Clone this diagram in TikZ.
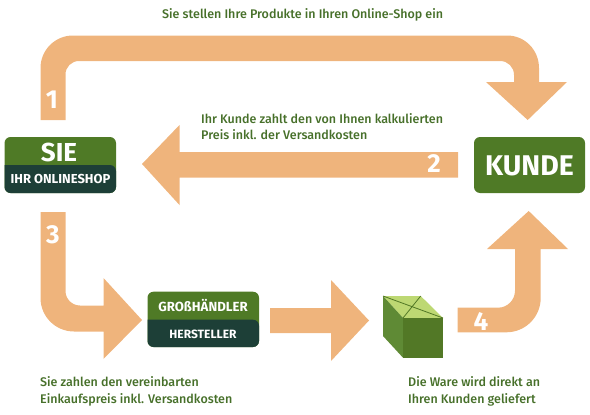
\documentclass[tikz,border=0pt]{standalone}
\usepackage{fontspec}
\setmainfont{Fira Sans}
\definecolor{arrowc}{HTML}{EFB47C}
\definecolor{leaf}{HTML}{4F7A26}
\definecolor{pine}{HTML}{1D3F37}
\definecolor{capt}{HTML}{47702A}
\definecolor{boxtop}{HTML}{BDD873}
\definecolor{boxside}{HTML}{5F8A35}
\definecolor{boxfront}{HTML}{527826}
\tikzset{
  x=1pt,y=-1pt,
  fat/.style={fill=arrowc,draw=none},
  caption/.style={text=capt,font=\fontsize{12.5}{16}\selectfont\fontspec{Fira Sans Medium},anchor=base west,inner sep=0pt},
  num/.style={text=white,font=\fontsize{26}{26}\selectfont\bfseries,inner sep=0pt},
  boxlabel/.style={text=white,inner sep=0pt,font=\bfseries},
}
\begin{document}
\begin{tikzpicture}
\useasboundingbox (0,0) rectangle (590,415);
% block arrows
\fill[fat] (40.5,120) -- (40.5,68) .. controls (40.5,50) and (55,35.5) .. (73,35.5) -- (507,35.5) .. controls (525,35.5) and (539,50) .. (539,68) -- (539,82) -- (567,82) -- (527.7,120) -- (486,82) -- (514,82) -- (514,75) .. controls (514,67) and (508,61) .. (500,61) -- (79,61) .. controls (71.5,61) and (65.5,67) .. (65.5,74.5) -- (65.5,120) -- cycle;
\fill[fat] (458,152) -- (179.5,152) -- (179.5,125) -- (142,164) -- (179.5,205) -- (179.5,177.5) -- (458,177.5) -- cycle;
\fill[fat] (40.5,212) -- (40.5,298) .. controls (40.5,316.5) and (55.5,331.5) .. (74,331.5) -- (103.5,331.5) -- (103.5,359) -- (142,320) -- (103.5,278) -- (103.5,305.5) -- (80,305.5) .. controls (72,305.5) and (65.5,299) .. (65.5,291) -- (65.5,212) -- cycle;
\fill[fat] (270,308) -- (331,308) -- (331,280) -- (369,320.5) -- (331,361) -- (331,333) -- (270,333) -- cycle;
\fill[fat] (457.7,307.7) -- (498,307.7) .. controls (507.4,307.7) and (515,300) .. (515,290.7) -- (515,249) -- (487,249) -- (528.7,211) -- (568,249) -- (540.7,249) -- (540.7,298) .. controls (540.7,317) and (525.3,332.3) .. (506.4,332.3) -- (457.7,332.3) -- cycle;
% SIE box
\fill[leaf,rounded corners=6] (4.5,137) rectangle (116,193);
\fill[pine] (4.5,165) [rounded corners=6] -- (4.5,193) -- (116,193) -- (116,165) [sharp corners] -- cycle;
\node[boxlabel,font=\fontsize{26}{26}\selectfont\bfseries] (sie) at (59,152.5) {SIE};
\node[boxlabel,font=\fontsize{13}{14}\selectfont\bfseries] (shop) at (60.5,179) {IHR ONLINESHOP};
% KUNDE box
\fill[leaf,rounded corners=6] (474,137) rectangle (585,193);
\node[boxlabel,font=\fontsize{28.5}{28}\selectfont\bfseries] (kunde) at (529.5,166) {KUNDE};
% wholesaler box
\fill[leaf,rounded corners=6] (147.5,291.7) rectangle (259,347);
\fill[pine] (147.5,319.7) [rounded corners=6] -- (147.5,347) -- (259,347) -- (259,319.7) [sharp corners] -- cycle;
\node[boxlabel,font=\fontsize{13.2}{14}\selectfont\bfseries] (gross) at (203,306) {GROßHÄNDLER};
\node[boxlabel,font=\fontsize{12}{14}\selectfont\bfseries] (herst) at (203,334) {HERSTELLER};
% parcel
\fill[boxtop] (383,296) -- (420.7,296) -- (443,318) -- (403,318) -- cycle;
\fill[boxside] (383,296) -- (403,318) -- (403,357.7) -- (383,336) -- cycle;
\fill[boxfront] (403,318) rectangle (443,357.7);
\draw[boxfront,line width=0.8] (383,296) -- (443,318) (420.7,296) -- (403,318);
% numbers
\node[num] (n1) at (52,100) {1};
\node[num] (n2) at (434,164) {2};
\node[num] (n3) at (53,235) {3};
\node[num] (n4) at (481,321) {4};
% captions
\node[caption] (c1) at (162,18) {Sie stellen Ihre Produkte in Ihren Online-Shop ein};
\node[caption] (c2a) at (201,123) {Ihr Kunde zahlt den von Ihnen kalkulierten};
\node[caption] (c2b) at (201,139.5) {Preis inkl. der Versandkosten};
\node[caption] (c3a) at (40,386.5) {Sie zahlen den vereinbarten};
\node[caption] (c3b) at (40,403) {Einkaufspreis inkl. Versandkosten};
\node[caption] (c4a) at (408,386.5) {Die Ware wird direkt an};
\node[caption] (c4b) at (408,403) {Ihren Kunden geliefert};
\end{tikzpicture}
\end{document}
